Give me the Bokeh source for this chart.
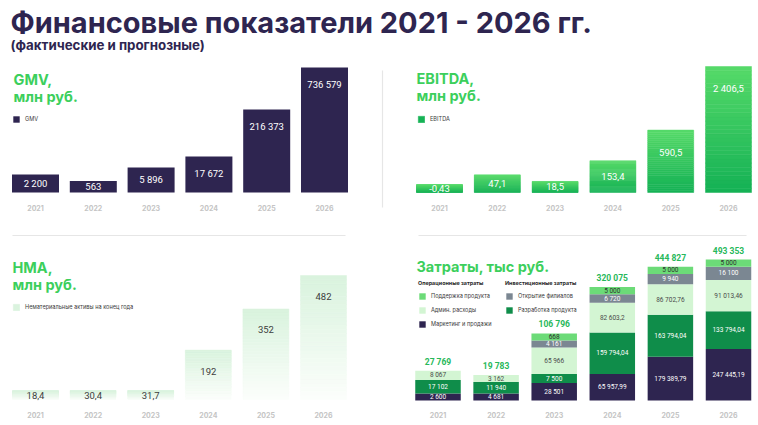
import numpy as np
from bokeh.plotting import figure
from bokeh.layouts import column, row
from bokeh.models import Range1d, Legend, LegendItem
from bokeh.core.properties import value
from bokeh.embed import file_html
from bokeh.resources import INLINE

# ---------------- data ----------------
years = ["2021", "2022", "2023", "2024", "2025", "2026"]
gmv = [2200, 563, 5896, 17672, 216373, 736579]                 # млн руб.
ebitda = [-0.43, 47.1, 18.5, 153.4, 590.5, 2406.5]             # млн руб.
nma = [18.4, 30.4, 31.7, 192, 352, 482]                        # млн руб.
cost_marketing = [2600, 4681, 28501, 65957.99, 179389.79, 247445.19]
cost_dev = [17102, 11940, 7500, 159794.04, 163794.04, 133794.04]
cost_admin = [8067, 3162, 65966, 82603.2, 86702.76, 91013.46]
cost_branches = [0, 0, 4161, 6720, 9940, 16100]
cost_support = [0, 0, 668, 5000, 5000, 5000]

FONT = "Inter"
NUMFONT = "Roboto"
NAVY = "#2e2550"
GREEN = "#3ccf5c"
YEAR_GREY = "#c4c4c4"


def fmt(v):
    if float(v).is_integer():
        s = f"{int(round(v)):,}"
    else:
        s = f"{v:,.2f}".rstrip("0").rstrip(".")
    return s.replace(",", " ").replace(".", ",")


def hex2rgb(h):
    h = h.lstrip("#")
    return np.array([int(h[i:i + 2], 16) for i in (0, 2, 4)], dtype=float)


def mix(c0, c1, t):
    c = hex2rgb(c0) * (1 - t) + hex2rgb(c1) * t
    return "#%02x%02x%02x" % tuple(int(round(v)) for v in c)


def bare_figure(w, h, xr, yr):
    p = figure(width=w, height=h, x_range=xr, y_range=yr,
               output_backend="svg", toolbar_location=None,
               x_axis_location=None, y_axis_location=None,
               min_border=0, outline_line_color=None,
               background_fill_color="white", border_fill_color="white")
    for g in p.grid:
        g.visible = False
    return p


class Panel:
    """A figure whose x unit is one year slot and whose y unit is a display-scaled value."""

    def __init__(self, w, h, first_px, step_px, base_px, unit_per_px):
        self.k = unit_per_px
        self.step = step_px
        self.x0 = -first_px / step_px
        self.y1 = base_px * unit_per_px
        self.p = bare_figure(w, h, Range1d(self.x0, self.x0 + w / step_px),
                             Range1d(-(h - base_px) * unit_per_px, self.y1))

    def X(self, px):
        return self.x0 + px / self.step

    def Y(self, py):
        return self.y1 - py * self.k

    def W(self, px):
        return px / self.step

    def H(self, px):
        return px * self.k

    def label(self, px, baseline_py, text, size, color):
        self.p.text(x=[self.X(px)], y=[self.Y(baseline_py - 0.36 * size)], text=[text],
                    text_font=value(FONT), text_font_size=f"{size}px",
                    text_font_style="bold", text_color=color,
                    text_align="left", text_baseline="middle")

    def years(self, py):
        self.p.text(x=list(range(len(years))), y=[self.Y(py)] * len(years), text=years,
                    text_font=value(FONT), text_font_size="7px", text_font_style="bold",
                    text_color=YEAR_GREY, text_align="center", text_baseline="middle")

    def hline(self, px0, px1, py):
        self.p.segment(x0=[self.X(px0)], y0=[self.Y(py)], x1=[self.X(px1)], y1=[self.Y(py)],
                       line_color="#e6e6e6", line_width=1.2)

    def vline(self, px, py0, py1):
        self.p.segment(x0=[self.X(px)], y0=[self.Y(py0)], x1=[self.X(px)], y1=[self.Y(py1)],
                       line_color="#e6e6e6", line_width=1.2)


def legend(p, items, loc, title=None, size="5.6px"):
    kw = dict(items=items, location=loc, padding=0, margin=0, spacing=6,
              glyph_width=8, glyph_height=8, label_height=8, label_standoff=5,
              label_text_font=FONT, label_text_font_size=size,
              label_text_color="#3a3a3a", background_fill_alpha=0,
              border_line_color=None)
    if title:
        kw.update(title=title, title_text_font=FONT, title_text_font_size="5.4px",
                  title_text_font_style="bold", title_text_color="#2a2a2a", title_standoff=6)
    p.add_layout(Legend(**kw))


def gradient_bars(p, xs, tops, width, c_bottom, c_top, n=30):
    xa, ba, ta, ca = [], [], [], []
    for x, t in zip(xs, tops):
        for j in range(n):
            xa.append(x)
            ba.append(t * j / n)
            ta.append(t * (j + 1) / n)
            ca.append(mix(c_bottom, c_top, (j + 0.5) / n))
    return p.vbar(x=xa, bottom=ba, top=ta, width=width, fill_color=ca,
                  line_color=ca, line_width=0.5)


def values_text(P, xs, ys, vals, size, color, bold=False):
    P.p.text(x=xs, y=ys, text=[fmt(v) for v in vals],
             text_font=value(NUMFONT), text_font_size=size,
             text_font_style="bold" if bold else "normal", text_color=color,
             text_align="center", text_baseline="middle")


idx = np.arange(len(years))

# ---------------- header ----------------
hdr = bare_figure(758, 62, Range1d(0, 758), Range1d(62, 0))
hdr.text(x=[10], y=[32 - 0.36 * 29], text=["Финансовые показатели 2021 - 2026 гг."],
         text_font=value(FONT), text_font_size="29px", text_font_style="bold",
         text_color=NAVY, text_baseline="middle")
hdr.text(x=[10], y=[49 - 0.36 * 13.3], text=["(фактические и прогнозные)"],
         text_font=value(FONT), text_font_size="13.3px", text_font_style="bold",
         text_color=NAVY, text_baseline="middle")

# ---------------- GMV (cube-root display scale) ----------------
g_t = np.cbrt(np.array(gmv, dtype=float))
A = Panel(384, 175, 35, 57.8, 130, g_t.max() / 125)
g_disp = np.maximum(g_t, A.H(8))
r_gmv = A.p.vbar(x=idx, top=g_disp, bottom=0, width=A.W(47), fill_color=NAVY, line_color=None)
values_text(A, idx, np.maximum(g_disp / 2, g_disp - A.H(17)), gmv, "9.5px", "white")
A.label(13, 22, "GMV,", 14.5, GREEN)
A.label(13, 39, "млн руб.", 14.5, GREEN)
legend(A.p, [LegendItem(label="GMV", renderers=[r_gmv])], (12, 114))
A.years(145)
A.hline(12, 345, 173)
A.vline(382, 8, 145)

# ---------------- EBITDA (square-root display scale) ----------------
e_t = np.sqrt(np.clip(np.array(ebitda, dtype=float), 0, None))
B = Panel(374, 175, 55, 57.8, 130, e_t.max() / 126)
e_disp = np.maximum(e_t, B.H(8))
r_e = gradient_bars(B.p, idx, e_disp, B.W(46), "#14b155", "#56da69")
values_text(B, idx, np.maximum(e_disp / 2, e_disp - B.H(22)), ebitda, "9.5px", "white")
B.label(32, 21, "EBITDA,", 14.5, GREEN)
B.label(32, 38, "млн руб.", 14.5, GREEN)
legend(B.p, [LegendItem(label="EBITDA", renderers=[r_e], index=0)], (33, 114))
B.years(145)
B.hline(34, 362, 173)

# ---------------- НМА (linear) ----------------
n_v = np.array(nma, dtype=float)
C = Panel(384, 188, 35, 57.6, 162, n_v.max() / 124)
n_disp = np.maximum(n_v, C.H(9))
r_n = gradient_bars(C.p, idx, n_disp, C.W(46), "#fcfefc", "#d9f3dd")
values_text(C, idx, np.maximum(n_disp / 2, n_disp - C.H(21)), nma, "9.5px", "#3d3d3d")
C.label(12, 35, "НМА,", 14.5, GREEN)
C.label(12, 52, "млн руб.", 14.5, GREEN)
legend(C.p, [LegendItem(label="Нематериальные активы на конец года", renderers=[r_n], index=29)],
       (12, 114), size="5.6px")
C.years(177)

# ---------------- Затраты (stacked, square-root display scale) ----------------
series = [
    ("Маркетинг и продажи", cost_marketing, NAVY, "white"),
    ("Разработка продукта", cost_dev, "#0f8d4a", "white"),
    ("Админ. расходы", cost_admin, "#d3f5d3", "#4a4a4a"),
    ("Открытие филиалов", cost_branches, "#7b8792", "white"),
    ("Поддержка продукта", cost_support, "#6cdb78", "#2f2f2f"),
]
raw = [np.sqrt(np.array(s[1], dtype=float)) for s in series]
D = Panel(374, 188, 53.5, 58.1, 163, np.sum(raw, axis=0).max() / 141)
base = np.zeros(len(years))
rend = {}
for (name, vals, col, tcol), t in zip(series, raw):
    vals = np.array(vals, dtype=float)
    h = np.where(vals > 0, np.maximum(t, D.H(7)), 0.0)
    top = base + h
    rend[name] = D.p.vbar(x=idx, bottom=base, top=top, width=D.W(45.5),
                          fill_color=col, line_color=None)
    m = vals > 0
    values_text(D, idx[m], ((base + top) / 2)[m], vals[m], "6.5px", tcol)
    base = top
totals = np.round(np.sum([np.array(s[1], dtype=float) for s in series], axis=0))
values_text(D, idx, base + D.H(9), totals, "8.5px", "#27b85a", bold=True)
D.label(32, 34, "Затраты, тыс руб.", 14.5, GREEN)
legend(D.p, [LegendItem(label=n, renderers=[rend[n]]) for n in
             ["Поддержка продукта", "Админ. расходы", "Маркетинг и продажи"]],
       (34, 97), title="Операционные затраты")
legend(D.p, [LegendItem(label=n, renderers=[rend[n]]) for n in
             ["Открытие филиалов", "Разработка продукта"]],
       (121, 111), title="Инвестиционные затраты")
D.years(177)

layout = column(hdr, row(A.p, B.p), row(C.p, D.p))
open("out.html", "w").write(file_html(layout, INLINE))
